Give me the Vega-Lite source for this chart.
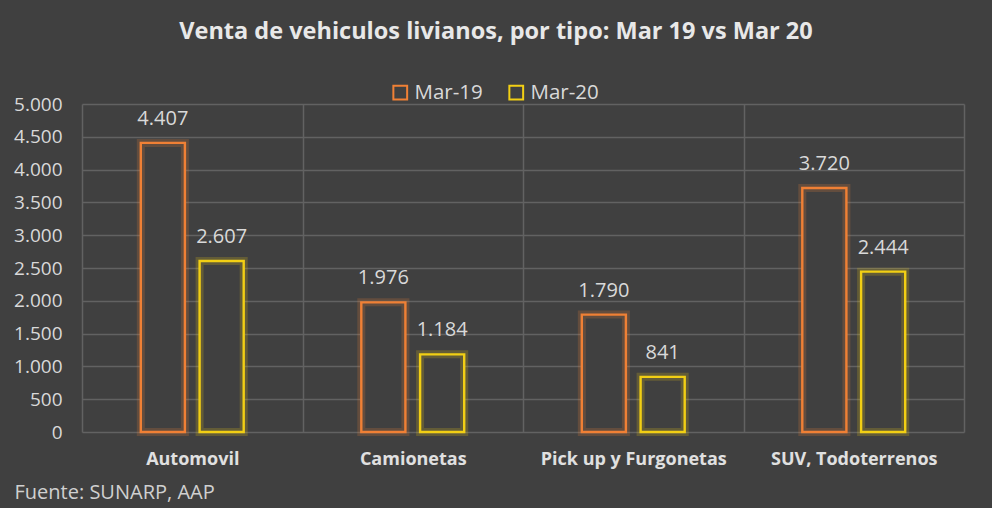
{
  "$schema": "https://vega.github.io/schema/vega-lite/v6.json",
  "width": 882,
  "height": 328,
  "autosize": {"type": "none"},
  "padding": {"left": 82, "top": 104, "right": 28, "bottom": 76},
  "background": "#404040",
  "title": {
    "text": "Venta de vehiculos livianos, por tipo: Mar 19 vs Mar 20",
    "fontSize": 23.5,
    "fontWeight": "bold",
    "font": "Open Sans",
    "color": "#e8e8e8",
    "anchor": "middle",
    "offset": 39,
    "dx": -27
  },
  "data": {
    "values": [
      {"tipo": "Automovil", "periodo": "Mar-19", "ventas": 4407},
      {"tipo": "Automovil", "periodo": "Mar-20", "ventas": 2607},
      {"tipo": "Camionetas", "periodo": "Mar-19", "ventas": 1976},
      {"tipo": "Camionetas", "periodo": "Mar-20", "ventas": 1184},
      {"tipo": "Pick up y Furgonetas", "periodo": "Mar-19", "ventas": 1790},
      {"tipo": "Pick up y Furgonetas", "periodo": "Mar-20", "ventas": 841},
      {"tipo": "SUV, Todoterrenos", "periodo": "Mar-19", "ventas": 3720},
      {"tipo": "SUV, Todoterrenos", "periodo": "Mar-20", "ventas": 2444}
    ]
  },
  "encoding": {
    "x": {
      "field": "tipo",
      "type": "nominal",
      "sort": null,
      "scale": {"paddingInner": 0, "paddingOuter": 0},
      "axis": {
        "title": "Fuente: SUNARP, AAP",
        "titleX": -68,
        "titleY": 66,
        "titleAlign": "left",
        "titleBaseline": "alphabetic",
        "titleFontSize": 20,
        "titleFontWeight": "normal",
        "titleColor": "#d0d0d0",
        "titleFont": "Open Sans",
        "labelAngle": 0,
        "labelFontSize": 18,
        "labelFontWeight": "bold",
        "labelColor": "#e0e0e0",
        "labelFont": "Open Sans",
        "labelPadding": 18,
        "labelLimit": 400,
        "ticks": false,
        "domain": false,
        "grid": true,
        "tickBand": "extent",
        "gridColor": "#626262",
        "gridWidth": 1.5
      }
    },
    "xOffset": {
      "field": "periodo",
      "type": "nominal",
      "scale": {"paddingInner": 0.25, "paddingOuter": 1.09}
    },
    "y": {
      "field": "ventas",
      "type": "quantitative",
      "scale": {"domain": [0, 5000]},
      "axis": {
        "title": null,
        "values": [0, 500, 1000, 1500, 2000, 2500, 3000, 3500, 4000, 4500, 5000],
        "format": ",.0f",
        "labelFontSize": 19,
        "labelColor": "#d9d9d9",
        "labelFont": "Open Sans",
        "labelPadding": 20,
        "labelOverlap": false,
        "ticks": false,
        "domain": false,
        "gridColor": "#626262",
        "gridWidth": 1.5
      }
    }
  },
  "layer": [
    {
      "mark": {"type": "bar", "fill": "#404040", "strokeWidth": 8, "strokeOpacity": 0.2},
      "encoding": {
        "stroke": {
          "field": "periodo",
          "type": "nominal",
          "scale": {"domain": ["Mar-19", "Mar-20"], "range": ["#f08035", "#f2cf14"]},
          "legend": {
            "title": null,
            "orient": "none",
            "legendX": 308,
            "legendY": -22,
            "direction": "horizontal",
            "symbolType": "square",
            "symbolSize": 190,
            "symbolStrokeWidth": 2,
            "symbolFillColor": "#404040",
            "symbolOpacity": 1,
            "labelFontSize": 20.5,
            "labelColor": "#d9d9d9",
            "labelFont": "Open Sans",
            "labelOffset": 4,
            "columnPadding": 22
          }
        }
      }
    },
    {
      "mark": {"type": "bar", "fill": "#404040", "fillOpacity": 0, "strokeWidth": 2.4},
      "encoding": {
        "stroke": {"field": "periodo", "type": "nominal"}
      }
    },
    {
      "mark": {"type": "text", "dy": -14, "baseline": "bottom", "fontSize": 20, "font": "Open Sans", "color": "#d9d9d9"},
      "encoding": {
        "text": {"field": "ventas", "type": "quantitative", "format": ",.0f"}
      }
    }
  ],
  "config": {
    "view": {"stroke": null},
    "locale": {
      "number": {"decimal": ",", "thousands": ".", "grouping": [3], "currency": ["$", ""]}
    }
  }
}
